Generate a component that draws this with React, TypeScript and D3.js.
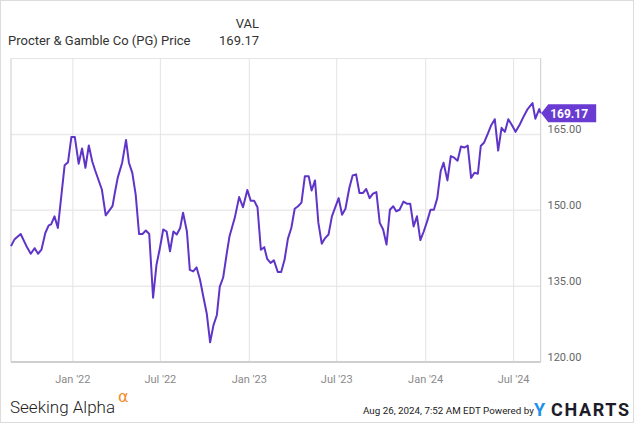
import React, { useEffect, useRef } from 'react';
import * as d3 from 'd3';

// Weekly closing prices
const dates = [
  '2021-08-26', '2021-09-02', '2021-09-15', '2021-09-27', '2021-10-06', '2021-10-14', '2021-10-21', '2021-10-28',
  '2021-11-05', '2021-11-12', '2021-11-17', '2021-11-24', '2021-12-01', '2021-12-15', '2021-12-22', '2021-12-29',
  '2022-01-05', '2022-01-13', '2022-01-20', '2022-01-27', '2022-02-03', '2022-02-10', '2022-02-16', '2022-03-02',
  '2022-03-10', '2022-03-24', '2022-03-29', '2022-04-04', '2022-04-13', '2022-04-21', '2022-04-27', '2022-05-04',
  '2022-05-11', '2022-05-18', '2022-05-25', '2022-06-01', '2022-06-08', '2022-06-16', '2022-06-23', '2022-06-30',
  '2022-07-07', '2022-07-14', '2022-07-21', '2022-07-28', '2022-08-04', '2022-08-11', '2022-08-17', '2022-08-25',
  '2022-08-31', '2022-09-07', '2022-09-14', '2022-09-21', '2022-09-28', '2022-10-05', '2022-10-12', '2022-10-19',
  '2022-10-26', '2022-11-01', '2022-11-08', '2022-11-15', '2022-11-21', '2022-12-02', '2022-12-11', '2022-12-19',
  '2022-12-28', '2023-01-04', '2023-01-11', '2023-01-18', '2023-01-25', '2023-02-01', '2023-02-07', '2023-02-14',
  '2023-02-21', '2023-03-01', '2023-03-08', '2023-03-15', '2023-03-22', '2023-03-29', '2023-04-05', '2023-04-12',
  '2023-04-19', '2023-04-26', '2023-05-04', '2023-05-10', '2023-05-17', '2023-05-24', '2023-05-31', '2023-06-07',
  '2023-06-14', '2023-06-21', '2023-06-28', '2023-07-05', '2023-07-12', '2023-07-19', '2023-07-27', '2023-08-03',
  '2023-08-10', '2023-08-17', '2023-08-24', '2023-08-31', '2023-09-07', '2023-09-14', '2023-09-21', '2023-09-28',
  '2023-10-05', '2023-10-12', '2023-10-19', '2023-10-26', '2023-11-01', '2023-11-08', '2023-11-16', '2023-11-23',
  '2023-11-30', '2023-12-07', '2023-12-14', '2023-12-21', '2023-12-28', '2024-01-04', '2024-01-11', '2024-01-18',
  '2024-01-25', '2024-02-01', '2024-02-07', '2024-02-15', '2024-02-22', '2024-02-29', '2024-03-07', '2024-03-14',
  '2024-03-21', '2024-03-28', '2024-04-04', '2024-04-11', '2024-04-18', '2024-04-24', '2024-05-01', '2024-05-08',
  '2024-05-15', '2024-05-23', '2024-05-30', '2024-06-06', '2024-06-13', '2024-06-20', '2024-06-27', '2024-07-05',
  '2024-07-14', '2024-07-22', '2024-07-30', '2024-08-09', '2024-08-15', '2024-08-23', '2024-08-26',
];

const prices = [
  142.9, 144.2, 145.3, 142.9, 141.4, 142.5, 141.4, 142.2,
  145.5, 147.0, 147.2, 148.8, 146.5, 158.9, 159.5, 164.5,
  164.5, 159.2, 162.2, 158.4, 162.8, 159.7, 157.9, 154.1,
  149.0, 150.8, 153.5, 156.5, 159.4, 163.9, 159.4, 157.4,
  153.1, 145.3, 145.3, 146.0, 145.3, 132.7, 139.2, 142.5,
  146.2, 145.8, 141.9, 145.8, 145.2, 146.5, 149.5, 145.8,
  138.2, 137.9, 138.7, 136.3, 132.9, 129.6, 123.9, 127.3,
  129.3, 134.9, 136.7, 141.2, 144.8, 148.5, 152.6, 150.6,
  154.0, 151.9, 151.9, 150.6, 142.2, 142.7, 140.4, 139.6,
  140.1, 137.8, 137.8, 140.2, 144.4, 146.5, 150.3, 150.8,
  151.5, 156.7, 156.7, 153.9, 155.9, 147.5, 143.4, 144.5,
  145.2, 148.8, 150.6, 152.4, 149.1, 150.3, 154.4, 156.9,
  157.1, 153.4, 153.4, 154.2, 152.4, 153.3, 153.6, 147.5,
  146.2, 143.2, 150.1, 150.8, 149.8, 150.1, 151.7, 151.3,
  151.3, 146.8, 148.8, 144.1, 145.8, 147.8, 150.1, 150.1,
  152.4, 157.7, 159.4, 155.9, 160.7, 160.4, 159.8, 162.6,
  162.4, 162.8, 156.4, 157.4, 157.2, 162.7, 163.4, 165.0,
  166.7, 168.0, 161.8, 166.3, 165.5, 168.0, 166.9, 165.5,
  167.0, 168.6, 170.0, 171.2, 168.1, 170.0, 169.17,
];

const yTicks = [120, 135, 150, 165];
const xTickDates = ['2022-01-01', '2022-07-01', '2023-01-01', '2023-07-01', '2024-01-01', '2024-07-01'];
const xTickLabels = ["Jan '22", "Jul '22", "Jan '23", "Jul '23", "Jan '24", "Jul '24"];
const seriesName = 'Procter & Gamble Co (PG) Price';
const lastValue = 169.17;
const timestamp = 'Aug 26, 2024, 7:52 AM EDT Powered by';

const App: React.FC = () => {
  const svgRef = useRef<SVGSVGElement>(null);

  useEffect(() => {
    if (!svgRef.current) return;
    const svg = d3.select(svgRef.current);
    svg.selectAll('*').remove();

    const width = 635;
    const height = 424;
    const plot = { left: 11, right: 540.7, top: 58.5, bottom: 362 };
    const font = 'Roboto, "Noto Sans", sans-serif';
    const purple = '#5f35c8';

    const parse = d3.timeParse('%Y-%m-%d');
    const points = dates.map((d, i) => ({ date: parse(d) as Date, value: prices[i] }));

    const x = d3.scaleTime()
      .domain([points[0].date, points[points.length - 1].date])
      .range([plot.left, plot.right]);
    const y = d3.scaleLinear()
      .domain([120, 180])
      .range([plot.bottom, plot.top]);

    // outer frame
    svg.append('rect')
      .attr('x', 0.5).attr('y', 0.5)
      .attr('width', width - 2).attr('height', height - 2)
      .attr('fill', '#fff')
      .attr('stroke', '#dcdcdc');

    // grid
    svg.append('g')
      .selectAll('line')
      .data(yTicks.filter(t => t > 120))
      .enter()
      .append('line')
      .attr('x1', plot.left).attr('x2', plot.right)
      .attr('y1', d => y(d)).attr('y2', d => y(d))
      .attr('stroke', '#ebebeb')
      .attr('stroke-width', 1.5);

    svg.append('g')
      .selectAll('line')
      .data(xTickDates)
      .enter()
      .append('line')
      .attr('x1', d => x(parse(d) as Date)).attr('x2', d => x(parse(d) as Date))
      .attr('y1', plot.top).attr('y2', plot.bottom)
      .attr('stroke', '#e3e3e3')
      .attr('stroke-width', 1);

    // plot borders
    svg.append('line')
      .attr('x1', plot.left).attr('x2', plot.right)
      .attr('y1', plot.top).attr('y2', plot.top)
      .attr('stroke', '#e6e6e6');
    svg.append('line')
      .attr('x1', plot.left).attr('x2', plot.left)
      .attr('y1', plot.top).attr('y2', plot.bottom)
      .attr('stroke', '#cccccc');
    svg.append('line')
      .attr('x1', plot.right).attr('x2', plot.right)
      .attr('y1', plot.top).attr('y2', plot.bottom)
      .attr('stroke', '#cccccc');
    svg.append('line')
      .attr('x1', plot.left).attr('x2', plot.right)
      .attr('y1', plot.bottom).attr('y2', plot.bottom)
      .attr('stroke', '#cfcfcf')
      .attr('stroke-width', 2);

    // y tick labels
    svg.append('g')
      .selectAll('text')
      .data(yTicks)
      .enter()
      .append('text')
      .attr('x', 547.5)
      .attr('y', d => y(d) - 1.5)
      .style('font-family', font)
      .style('font-size', '11px')
      .attr('fill', '#666')
      .text(d => d.toFixed(2));

    // x tick labels
    svg.append('g')
      .selectAll('text')
      .data(xTickDates)
      .enter()
      .append('text')
      .attr('x', d => x(parse(d) as Date))
      .attr('y', 383)
      .attr('text-anchor', 'middle')
      .style('font-family', font)
      .style('font-size', '11px')
      .attr('fill', '#8a8a8a')
      .text((_, i) => xTickLabels[i]);

    // price line
    const line = d3.line<{ date: Date; value: number }>()
      .x(d => x(d.date))
      .y(d => y(d.value));

    svg.append('path')
      .datum(points)
      .attr('fill', 'none')
      .attr('stroke', purple)
      .attr('stroke-width', 2)
      .attr('stroke-linejoin', 'round')
      .attr('d', line);

    // last value tag
    const ty = y(lastValue);
    const tx = plot.right + 0.5;
    svg.append('path')
      .attr('d', `M${tx},${ty} L${tx + 7},${ty - 9} L${tx + 55},${ty - 9} L${tx + 55},${ty + 9} L${tx + 7},${ty + 9} Z`)
      .attr('fill', '#6a3bd2');
    svg.append('text')
      .attr('x', tx + 9)
      .attr('y', ty + 4.5)
      .style('font-family', font)
      .style('font-size', '12px')
      .style('font-weight', 700)
      .attr('fill', '#fff')
      .text(lastValue.toFixed(2));

    // header
    svg.append('text')
      .attr('x', 259).attr('y', 28)
      .attr('text-anchor', 'end')
      .style('font-family', font)
      .style('font-size', '13px')
      .attr('fill', '#333')
      .text('VAL');
    svg.append('text')
      .attr('x', 8).attr('y', 45)
      .style('font-family', font)
      .style('font-size', '13px')
      .attr('fill', '#333')
      .text(seriesName);
    svg.append('text')
      .attr('x', 259).attr('y', 45)
      .attr('text-anchor', 'end')
      .style('font-family', font)
      .style('font-size', '13px')
      .attr('fill', '#333')
      .text(lastValue.toFixed(2));

    // footer
    svg.append('text')
      .attr('x', 10).attr('y', 413)
      .style('font-family', font)
      .style('font-size', '17px')
      .style('font-weight', 300)
      .attr('fill', '#222')
      .text('Seeking Alpha');
    svg.append('text')
      .attr('x', 118).attr('y', 402)
      .style('font-family', '"DejaVu Sans", sans-serif')
      .style('font-size', '16px')
      .attr('fill', '#f28c28')
      .text('α');
    svg.append('text')
      .attr('x', 363).attr('y', 414)
      .style('font-family', font)
      .style('font-size', '9.8px')
      .attr('fill', '#222')
      .text(timestamp);
    svg.append('text')
      .attr('x', 534).attr('y', 416)
      .style('font-family', font)
      .style('font-size', '18px')
      .style('font-weight', 700)
      .attr('fill', '#1e90e8')
      .text('Y');
    svg.append('text')
      .attr('x', 551).attr('y', 416)
      .style('font-family', font)
      .style('font-size', '18px')
      .style('font-weight', 700)
      .attr('textLength', 78)
      .attr('lengthAdjust', 'spacing')
      .attr('fill', '#1c1c28')
      .text('CHARTS');
  }, []);

  return (
    <svg
      ref={svgRef}
      width={635}
      height={424}
      style={{ position: 'absolute', left: 0, top: 0, background: '#fff' }}
    />
  );
};

export default App;
